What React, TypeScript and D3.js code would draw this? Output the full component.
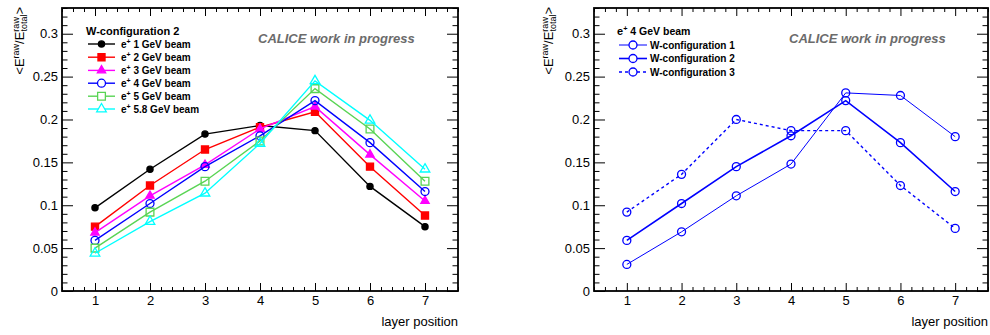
import React, { useRef, useEffect } from "react";
import * as d3 from "d3";

const layers = [1, 2, 3, 4, 5, 6, 7];

// left panel: W-configuration 2, one curve per positron beam energy
const beamLabels = ["1", "2", "3", "4", "5", "5.8"];
const beam1 = [0.097, 0.142, 0.183, 0.193, 0.187, 0.122, 0.075];
const beam2 = [0.075, 0.123, 0.165, 0.191, 0.209, 0.145, 0.088];
const beam3 = [0.068, 0.111, 0.147, 0.189, 0.215, 0.159, 0.105];
const beam4 = [0.059, 0.102, 0.145, 0.181, 0.222, 0.173, 0.116];
const beam5 = [0.05, 0.092, 0.128, 0.175, 0.236, 0.189, 0.128];
const beam58 = [0.044, 0.081, 0.114, 0.172, 0.245, 0.199, 0.142];

// right panel: 4 GeV beam, three W configurations
const configLabels = ["W-configuration 1", "W-configuration 2", "W-configuration 3"];
const config1 = [0.031, 0.069, 0.111, 0.148, 0.231, 0.228, 0.18];
const config2 = beam4;
const config3 = [0.092, 0.136, 0.2, 0.187, 0.187, 0.123, 0.073];

const yTicks = [0, 0.05, 0.1, 0.15, 0.2, 0.25, 0.3];
const yTickLabels = ["0", "0.05", "0.1", "0.15", "0.2", "0.25", "0.3"];

const FONT = "'Liberation Sans', Arial, Helvetica, sans-serif";
const TOP = 8;
const BOTTOM = 291;

type Series = {
  values: number[];
  color: string;
  symbol: d3.SymbolType;
  size: number;
  filled: boolean;
  width: number;
  dash?: string;
};

const leftSeries: Series[] = [
  { values: beam1, color: "#000000", symbol: d3.symbolCircle, size: 30, filled: true, width: 1.4 },
  { values: beam2, color: "#ff0000", symbol: d3.symbolSquare, size: 50, filled: true, width: 1.4 },
  { values: beam3, color: "#ff00ff", symbol: d3.symbolTriangle, size: 30, filled: true, width: 1.4 },
  { values: beam4, color: "#0000ff", symbol: d3.symbolCircle, size: 50, filled: false, width: 1.4 },
  { values: beam5, color: "#59d454", symbol: d3.symbolSquare, size: 60, filled: false, width: 1.4 },
  { values: beam58, color: "#00ffff", symbol: d3.symbolTriangle, size: 40, filled: false, width: 1.4 },
];

const rightSeries: Series[] = [
  { values: config1, color: "#0000ff", symbol: d3.symbolCircle, size: 50, filled: false, width: 1 },
  { values: config2, color: "#0000ff", symbol: d3.symbolCircle, size: 50, filled: false, width: 1.6 },
  { values: config3, color: "#0000ff", symbol: d3.symbolCircle, size: 50, filled: false, width: 1.4, dash: "3,3" },
];

type Panel = {
  x0: number;
  x1: number;
  titleX: number;
  series: Series[];
  header: "config" | "beam";
  labels: string[];
  legendLine: [number, number];
  legendText: number;
  legendRows: number[];
  calice: number;
};

const panels: Panel[] = [
  {
    x0: 62, x1: 458, titleX: 24, series: leftSeries, header: "config", labels: beamLabels,
    legendLine: [88, 115], legendText: 121, legendRows: [44, 57.2, 70.4, 83.2, 96.2, 109], calice: 258,
  },
  {
    x0: 594, x1: 988, titleX: 553, series: rightSeries, header: "beam", labels: configLabels,
    legendLine: [619, 647], legendText: 650, legendRows: [45, 58.5, 72], calice: 789,
  },
];

// "e+" with a superscript plus, followed by rest of text
const ePlus = (t: d3.Selection<SVGTextElement, unknown, null, undefined>, rest: string, size: number) => {
  t.append("tspan").text("e");
  t.append("tspan").attr("font-size", size * 0.7).attr("dy", -4).text("+");
  t.append("tspan").attr("font-size", size).attr("dy", 4).text(rest);
};

const drawPanel = (svg: d3.Selection<SVGSVGElement, unknown, null, undefined>, p: Panel) => {
  const x = d3.scaleLinear().domain([0.4, 7.6]).range([p.x0, p.x1]);
  const y = d3.scaleLinear().domain([0, 0.33]).range([BOTTOM, TOP]);
  const g = svg.append("g");

  const minorX = x.ticks(36).filter((d) => !Number.isInteger(Math.round(d * 1000) / 1000));
  const minorY = y.ticks(33).filter((d) => !yTicks.some((t) => Math.abs(t - d) < 1e-6));

  const axes: [d3.Axis<d3.NumberValue>, string][] = [
    [d3.axisBottom(x).tickValues(layers).tickSizeInner(-8).tickSizeOuter(0).tickPadding(5).tickFormat(d3.format("d")), `translate(0,${BOTTOM})`],
    [d3.axisBottom(x).tickValues(minorX).tickSizeInner(-4).tickSizeOuter(0).tickFormat(() => ""), `translate(0,${BOTTOM})`],
    [d3.axisTop(x).tickValues(layers).tickSizeInner(-8).tickSizeOuter(0).tickFormat(() => ""), `translate(0,${TOP})`],
    [d3.axisTop(x).tickValues(minorX).tickSizeInner(-4).tickSizeOuter(0).tickFormat(() => ""), `translate(0,${TOP})`],
    [d3.axisLeft(y).tickValues(yTicks).tickSizeInner(-11).tickSizeOuter(0).tickPadding(4).tickFormat((d, i) => yTickLabels[i]), `translate(${p.x0},0)`],
    [d3.axisLeft(y).tickValues(minorY).tickSizeInner(-5.5).tickSizeOuter(0).tickFormat(() => ""), `translate(${p.x0},0)`],
    [d3.axisRight(y).tickValues(yTicks).tickSizeInner(-11).tickSizeOuter(0).tickFormat(() => ""), `translate(${p.x1},0)`],
    [d3.axisRight(y).tickValues(minorY).tickSizeInner(-5.5).tickSizeOuter(0).tickFormat(() => ""), `translate(${p.x1},0)`],
  ];
  axes.forEach(([axis, tr]) => {
    const a = g.append("g").attr("transform", tr).call(axis);
    a.select(".domain").remove();
    a.attr("font-size", 13).attr("font-family", FONT);
    a.selectAll("line").attr("stroke", "#000").attr("stroke-width", 1);
    a.selectAll("text").attr("fill", "#000");
  });

  g.append("rect")
    .attr("x", p.x0)
    .attr("y", TOP)
    .attr("width", p.x1 - p.x0)
    .attr("height", BOTTOM - TOP)
    .attr("fill", "none")
    .attr("stroke", "#000")
    .attr("stroke-width", 1.8);

  // axis titles
  g.append("text")
    .attr("x", p.x1)
    .attr("y", 326)
    .attr("text-anchor", "end")
    .attr("font-size", 13)
    .attr("font-family", FONT)
    .text("layer position");

  const yt = g.append("text")
    .attr("transform", `translate(${p.titleX},7) rotate(-90)`)
    .attr("text-anchor", "end")
    .attr("font-size", 13)
    .attr("font-family", FONT);
  yt.append("tspan").text("<E");
  yt.append("tspan").attr("font-size", 9).attr("dy", -5.5).text("raw");
  yt.append("tspan").attr("font-size", 13).attr("dy", 5.5).text("/E");
  yt.append("tspan").attr("font-size", 9).attr("dy", -5.5).text("raw");
  yt.append("tspan").attr("font-size", 9).attr("dx", -14.5).attr("dy", 8.5).text("total");
  yt.append("tspan").attr("font-size", 13).attr("dy", -3).text(">");

  g.append("text")
    .attr("x", p.calice)
    .attr("y", 43)
    .attr("font-size", 13)
    .attr("font-weight", "bold")
    .attr("font-style", "italic")
    .attr("font-family", FONT)
    .attr("fill", "#6b6b6b")
    .text("CALICE work in progress");

  // curves
  const line = d3.line<number>()
    .x((d, i) => x(layers[i]))
    .y((d) => y(d));

  p.series.forEach((s) => {
    g.append("path")
      .datum(s.values)
      .attr("d", line)
      .attr("fill", "none")
      .attr("stroke", s.color)
      .attr("stroke-width", s.width)
      .attr("stroke-dasharray", s.dash ?? null);

    g.selectAll(null)
      .data(s.values)
      .enter()
      .append("path")
      .attr("transform", (d, i) => `translate(${x(layers[i])},${y(d)})`)
      .attr("d", d3.symbol().type(s.symbol).size(s.size)())
      .attr("fill", s.filled ? s.color : "#fff")
      .attr("fill-opacity", s.filled ? 1 : 0)
      .attr("stroke", s.color)
      .attr("stroke-width", 1.3);
  });

  // legend
  const head = g.append("text")
    .attr("x", p.legendLine[0] - 2)
    .attr("y", 35)
    .attr("font-size", 11)
    .attr("font-weight", "bold")
    .attr("font-family", FONT);
  if (p.header === "config") head.text("W-configuration 2");
  else ePlus(head, " 4 GeV beam", 10.5);

  p.series.forEach((s, i) => {
    const cy = p.legendRows[i];
    const mid = (p.legendLine[0] + p.legendLine[1]) / 2;
    g.append("line")
      .attr("x1", p.legendLine[0])
      .attr("x2", p.legendLine[1])
      .attr("y1", cy)
      .attr("y2", cy)
      .attr("stroke", s.color)
      .attr("stroke-width", s.width)
      .attr("stroke-dasharray", s.dash ?? null);
    g.append("path")
      .attr("transform", `translate(${mid},${cy})`)
      .attr("d", d3.symbol().type(s.symbol).size(s.size)())
      .attr("fill", s.filled ? s.color : "#fff")
      .attr("stroke", s.color)
      .attr("stroke-width", 1.3);
    const t = g.append("text")
      .attr("x", p.legendText)
      .attr("y", cy + 3.6)
      .attr("font-size", 10)
      .attr("font-weight", "bold")
      .attr("font-family", FONT);
    if (p.header === "config") ePlus(t, ` ${p.labels[i]} GeV beam`, 10);
    else t.text(p.labels[i]);
  });
};

const App = () => {
  const ref = useRef<SVGSVGElement>(null);

  useEffect(() => {
    const svg = d3.select(ref.current as SVGSVGElement);
    svg.selectAll("*").remove();
    panels.forEach((p) => drawPanel(svg, p));
  }, []);

  return (
    <svg
      ref={ref}
      width={990}
      height={335}
      style={{ position: "absolute", left: 0, top: 0, background: "#fff" }}
    />
  );
};

export default App;
